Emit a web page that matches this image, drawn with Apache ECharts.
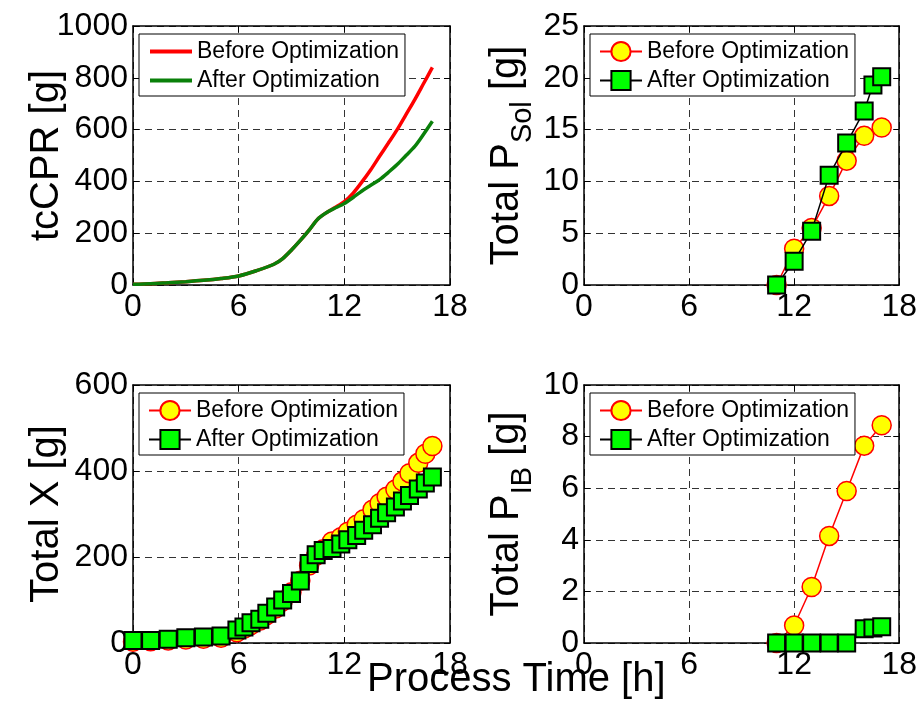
<!DOCTYPE html>
<html>
<head>
<meta charset="utf-8">
<script src="https://cdn.jsdelivr.net/npm/echarts@6/dist/echarts.min.js"></script>
<style>
  html, body { margin: 0; padding: 0; background: #fff; }
  #chart { width: 920px; height: 713px; }
</style>
</head>
<body>
<div id="chart"></div>
<script>
// Process time axis (h), shared by all four panels
const timeRange = [0, 18];
const timeStep = 6;

// Panel 1: total cumulative CPR (g), continuous simulation curves
const cprTime   = [0, 1, 2, 3, 4, 5, 6, 7, 8, 8.5, 9, 9.5, 10, 10.5, 11, 11.5, 12, 12.5, 13, 13.5, 14, 14.5, 15, 15.5, 16, 16.5, 17];
const cprBefore = [3, 5, 9, 13, 18, 25, 35, 55, 80, 102, 135, 172, 212, 255, 280, 300, 322, 355, 398, 445, 497, 548, 600, 658, 716, 778, 840];
const cprAfter  = [3, 5, 9, 13, 18, 25, 35, 55, 80, 102, 135, 172, 212, 255, 280, 298, 315, 338, 363, 385, 407, 435, 465, 500, 535, 582, 632];
const cprRange = [0, 1000], cprStep = 200;

// Panel 2: total soluble product P_Sol (g)
const solTimeBefore = [11, 12, 13, 14, 15, 16, 17];
const solBefore     = [0, 3.5, 5.5, 8.6, 12.0, 14.4, 15.2];
const solTimeAfter  = [11, 12, 13, 14, 15, 16, 16.5, 17];
const solAfter      = [0, 2.3, 5.2, 10.6, 13.7, 16.8, 19.3, 20.1];
const solRange = [0, 25], solStep = 5;

// Panel 3: total biomass X (g)
const bioTime   = [0, 1, 2, 3, 4, 5, 5.9, 6.3, 6.7, 7.2, 7.6, 8.1, 8.5, 9.0, 9.5, 10.0, 10.4, 10.8, 11.3, 11.8, 12.2, 12.7, 13.1, 13.6, 14.0, 14.4, 14.9, 15.3, 15.7, 16.2, 16.6, 17.0];
const bioBefore = [3, 4, 6, 8, 10, 12, 25, 33, 42, 52, 65, 80, 97, 118, 145, 180, 203, 218, 236, 246, 259, 275, 288, 310, 325, 340, 357, 376, 395, 419, 440, 458];
const bioAfter  = [6, 6, 9, 12, 14, 16, 30, 37, 47, 55, 69, 84, 100, 115, 144, 185, 205, 215, 220, 230, 240, 250, 262, 275, 290, 303, 316, 330, 343, 358, 372, 386];
const bioRange = [0, 600], bioStep = 200;

// Panel 4: total inclusion-body product P_IB (g)
const ibTimeBefore = [11, 12, 13, 14, 15, 16, 17];
const ibBefore     = [0, 0.68, 2.17, 4.15, 5.89, 7.65, 8.44];
const ibTimeAfter  = [11, 12, 13, 14, 15, 16, 16.5, 17];
const ibAfter      = [0, 0, 0, 0, 0, 0.55, 0.58, 0.63];
const ibRange = [0, 10], ibStep = 2;

const legendBefore = 'Before Optimization';
const legendAfter = 'After Optimization';

const FONT = '"Liberation Sans", Arial, Helvetica, sans-serif';
const pairs = (xs, ys) => xs.map((x, i) => [x, ys[i]]);

// Plot rectangles of the 2x2 layout
const rects = [
  { left: 133, top: 26, width: 317, height: 259 },
  { left: 584, top: 26, width: 316, height: 259 },
  { left: 133, top: 385, width: 317, height: 258 },
  { left: 584, top: 385, width: 316, height: 258 }
];

const yRanges = [cprRange, solRange, bioRange, ibRange];
const ySteps = [cprStep, solStep, bioStep, ibStep];
const yNames = [
  '{m|tcCPR [g]}',
  '{m|Total P}{s|Sol}{m| [g]}',
  '{m|Total X [g]}',
  '{m|Total P}{s|IB}{m| [g]}'
];

const nameRich = {
  m: { fontSize: 40, fontFamily: FONT, color: '#000', lineHeight: 44 },
  s: { fontSize: 29, fontFamily: FONT, color: '#000', lineHeight: 28, padding: [32, 0, 0, 0] }
};

const axisLine = { show: true, onZero: false, lineStyle: { color: '#000', width: 1.5 } };
const tick = { show: true, inside: true, length: 6, lineStyle: { color: '#000', width: 1 } };
const gridDash = { show: true, lineStyle: { color: '#333', width: 1, type: [7, 5] } };
const plainNumber = (v) => String(v);

const xAxes = [], yAxes = [];
rects.forEach((r, i) => {
  xAxes.push({
    type: 'value', gridIndex: i, position: 'bottom',
    min: timeRange[0], max: timeRange[1], interval: timeStep,
    axisLine, axisTick: tick, splitLine: gridDash,
    axisLabel: { fontSize: 32, fontFamily: FONT, color: '#000', margin: 6, formatter: plainNumber }
  });
  yAxes.push({
    type: 'value', gridIndex: i, position: 'left',
    min: yRanges[i][0], max: yRanges[i][1], interval: ySteps[i],
    axisLine, axisTick: tick, splitLine: gridDash,
    axisLabel: { fontSize: 32, fontFamily: FONT, color: '#000', margin: 5, formatter: plainNumber },
    name: yNames[i], nameLocation: 'middle', nameGap: i % 2 === 0 ? 64 : 55,
    nameMoveOverlap: false,
    nameTextStyle: { rich: nameRich }
  });
});
// Box edges with inward ticks on the top and right sides
rects.forEach((r, i) => {
  xAxes.push({
    type: 'value', gridIndex: i, position: 'top',
    min: timeRange[0], max: timeRange[1], interval: timeStep,
    axisLine, axisTick: tick, axisLabel: { show: false }, splitLine: { show: false }
  });
  yAxes.push({
    type: 'value', gridIndex: i, position: 'right',
    min: yRanges[i][0], max: yRanges[i][1], interval: ySteps[i],
    axisLine, axisTick: tick, axisLabel: { show: false }, splitLine: { show: false }
  });
});

const circleSeries = (id, i, data) => ({
  name: id + '|' + legendBefore, type: 'line', xAxisIndex: i, yAxisIndex: i,
  data, symbol: 'circle', symbolSize: 19, showAllSymbol: true, clip: false,
  itemStyle: { color: '#ffff00', borderColor: '#ff0000', borderWidth: 1.5 },
  lineStyle: { color: '#ff0000', width: 1.5 },
  emphasis: { disabled: true }, z: 3
});
const squareSeries = (id, i, data) => ({
  name: id + '|' + legendAfter, type: 'line', xAxisIndex: i, yAxisIndex: i,
  data, symbol: 'rect', symbolSize: 17, showAllSymbol: true, clip: false,
  itemStyle: { color: '#00ff00', borderColor: '#000', borderWidth: 2 },
  lineStyle: { color: '#000', width: 1.5 },
  emphasis: { disabled: true }, z: 4
});

const series = [
  {
    name: 'cpr|' + legendBefore, type: 'line', xAxisIndex: 0, yAxisIndex: 0,
    data: pairs(cprTime, cprBefore), symbol: 'none', smooth: 0.3,
    lineStyle: { color: '#ff0000', width: 3.5 }, itemStyle: { color: '#ff0000' },
    emphasis: { disabled: true }, z: 3
  },
  {
    name: 'cpr|' + legendAfter, type: 'line', xAxisIndex: 0, yAxisIndex: 0,
    data: pairs(cprTime, cprAfter), symbol: 'none', smooth: 0.3,
    lineStyle: { color: '#0a800a', width: 3.5 }, itemStyle: { color: '#0a800a' },
    emphasis: { disabled: true }, z: 4
  },
  circleSeries('sol', 1, pairs(solTimeBefore, solBefore)),
  squareSeries('sol', 1, pairs(solTimeAfter, solAfter)),
  circleSeries('bio', 2, pairs(bioTime, bioBefore)),
  squareSeries('bio', 2, pairs(bioTime, bioAfter)),
  circleSeries('ib', 3, pairs(ibTimeBefore, ibBefore)),
  squareSeries('ib', 3, pairs(ibTimeAfter, ibAfter))
];

const legendKeys = ['cpr', 'sol', 'bio', 'ib'];
const legends = rects.map((r, i) => {
  // the curve panel shows thick plain line samples, without a marker
  const item = (label) => i === 0
    ? { name: legendKeys[i] + '|' + label, itemStyle: { opacity: 0 }, lineStyle: { width: 4 } }
    : legendKeys[i] + '|' + label;
  return {
    orient: 'vertical', left: r.left + 6, top: r.top + 8,
    data: [item(legendBefore), item(legendAfter)],
    formatter: (n) => n.split('|')[1],
    itemWidth: 42, itemHeight: 24, itemGap: 6,
    padding: [6, 6, 4, 9],
    backgroundColor: '#fff', borderColor: '#000', borderWidth: 1,
    textStyle: { fontSize: 23, fontFamily: FONT, color: '#000' },
    selectedMode: false, z: 10
  };
});

const chart = echarts.init(document.getElementById('chart'), null, { renderer: 'canvas' });
chart.setOption({
  animation: false,
  backgroundColor: '#fff',
  title: {
    text: 'Process Time [h]', left: 367, top: 660, padding: 0,
    textStyle: { fontSize: 40, fontWeight: 'normal', fontFamily: FONT, color: '#000' }
  },
  grid: rects.map(r => Object.assign({ show: false }, r)),
  xAxis: xAxes,
  yAxis: yAxes,
  legend: legends,
  series
});
</script>
</body>
</html>
